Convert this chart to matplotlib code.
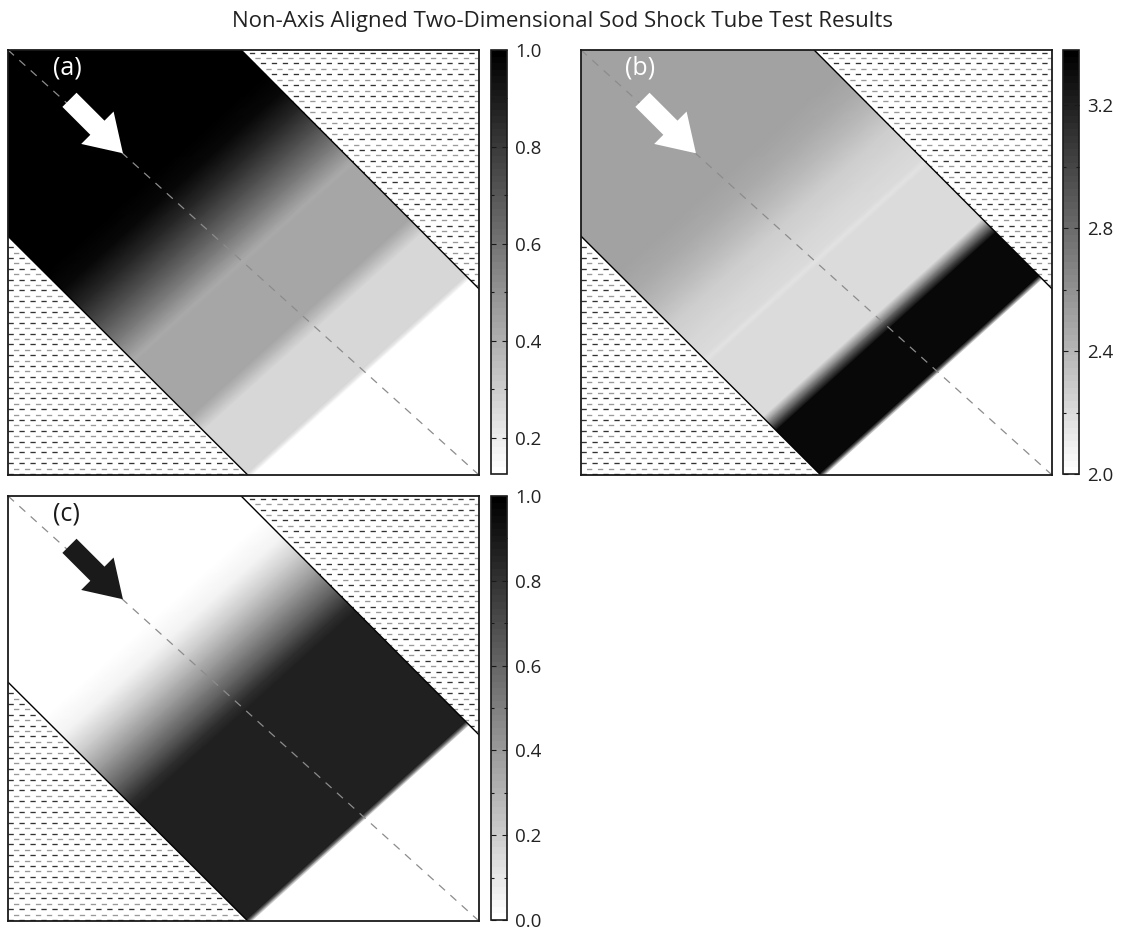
import numpy as np
import matplotlib
matplotlib.use("Agg")
import matplotlib.pyplot as plt
from matplotlib.patches import Polygon
from matplotlib.ticker import FixedLocator, FormatStrFormatter

plt.rcParams['font.family'] = ['Open Sans', 'DejaVu Sans']
plt.rcParams['lines.scale_dashes'] = False

# ---------------- data ----------------
title = "Non-Axis Aligned Two-Dimensional Sod Shock Tube Test Results"
panel_labels = ["(a)", "(b)", "(c)"]

# position along the tube axis (0 = top-left corner, 1 = bottom-right corner)
s_pos = [0.00, 0.30, 0.34, 0.38, 0.42, 0.46, 0.49, 0.497, 0.505, 0.625, 0.655, 0.752, 0.760, 1.00]
density = [1.0, 1.0, 0.97, 0.86, 0.72, 0.57, 0.45, 0.415, 0.43, 0.426, 0.266, 0.266, 0.125, 0.125]
energy = [2.5, 2.5, 2.47, 2.38, 2.28, 2.23, 2.20, 2.17, 2.20, 2.20, 3.32, 3.32, 2.0, 2.0]
velocity = [0.0, 0.0, 0.05, 0.21, 0.42, 0.63, 0.82, 0.84, 0.87, 0.87, 0.87, 0.87, 0.0, 0.0]

color_limits = [(0.125, 1.0), (2.0, 3.38), (0.0, 1.0)]
cbar_major = [[0.2, 0.4, 0.6, 0.8, 1.0],
              [2.0, 2.4, 2.8, 3.2],
              [0.0, 0.2, 0.4, 0.6, 0.8, 1.0]]
cbar_minor = [[0.3, 0.5, 0.7, 0.9],
              [2.2, 2.6, 3.0],
              [0.1, 0.3, 0.5, 0.7, 0.9]]

# tube walls in axes fraction
upper_wall_u = [0.495, 1.0]
upper_wall_v = [1.0, 0.438]
lower_wall_u = [0.0, 0.509]
lower_wall_v = [0.562, 0.0]

arrow_colors = ["white", "white", "#1a1a1a"]
label_colors = ["white", "white", "#1a1a1a"]

# ---------------- layout ----------------
W, H = 1125, 930
fig = plt.figure(figsize=(W / 100, H / 100), dpi=100)


def rect(l, r, t, b):
    return [l / W, 1 - b / H, (r - l) / W, (b - t) / H]


axes_rects = [rect(8, 479, 50, 475), rect(581, 1052, 50, 475), rect(8, 479, 496, 921)]
cbar_rects = [rect(491, 507, 50, 474), rect(1063, 1079, 50, 474), rect(491, 507, 496, 920)]

fields = [density, energy, velocity]
cmap = plt.get_cmap('gray_r', 64)

s_arr = np.array(s_pos)
t_arr = np.array([0.0, 2.0])
S, T = np.meshgrid(s_arr, t_arr)
U = (2 * S - 1 + T) / 2
V = (T - (2 * S - 1)) / 2

for i in range(3):
    ax = fig.add_axes(axes_rects[i])
    ax.set_xlim(0, 1)
    ax.set_ylim(0, 1)
    ax.set_xticks([])
    ax.set_yticks([])
    for sp in ax.spines.values():
        sp.set_linewidth(1.3)
        sp.set_color('#1a1a1a')
        sp.set_zorder(10)

    vals = np.array(fields[i])
    C = np.vstack([vals, vals])
    vmin, vmax = color_limits[i]
    m = ax.pcolormesh(U, V, C, shading='gouraud', cmap=cmap, vmin=vmin, vmax=vmax, zorder=1)

    # hatched wall regions
    polys = [
        [(upper_wall_u[0], upper_wall_v[0]), (1, 1), (upper_wall_u[1], upper_wall_v[1])],
        [(0, 0), (lower_wall_u[0], lower_wall_v[0]), (lower_wall_u[1], lower_wall_v[1])],
    ]
    step = 5.4 / 425
    for pv in polys:
        poly = Polygon(pv, closed=True, facecolor='white', edgecolor='none', zorder=2)
        ax.add_patch(poly)
        ys = np.arange(1 - step / 2, 0, -step)
        for k, y in enumerate(ys):
            dark = (k % 2 == 0)
            ln, = ax.plot([0, 1], [y, y], color='#333333' if dark else '#999999',
                          lw=0.95,
                          linestyle=(0.0 if dark else 3.95, (3.8, 4.1)),
                          dash_capstyle='butt', zorder=3)
            ln.set_clip_path(poly)

    # walls
    ax.plot(upper_wall_u, upper_wall_v, color='black', lw=1.0, zorder=4)
    ax.plot(lower_wall_u, lower_wall_v, color='black', lw=1.0, zorder=4)

    # tube axis
    ax.plot([0, 1], [1, 0], color='#8c8c8c', lw=0.9, linestyle=(0, (5.8, 5.2)), zorder=4)

    # arrow
    ax.annotate('', xy=(0.244, 0.757), xycoords='axes fraction',
                xytext=(-38.5, 38.5), textcoords='offset points',
                arrowprops=dict(arrowstyle='simple,head_length=26,head_width=33,tail_width=14.4',
                                mutation_scale=1, fc=arrow_colors[i], ec='none',
                                shrinkA=0, shrinkB=0),
                zorder=6)
    ax.text(0.125, 0.958, panel_labels[i], transform=ax.transAxes, ha='center', va='center',
            fontsize=18, color=label_colors[i], zorder=7)

    cax = fig.add_axes(cbar_rects[i])
    cb = fig.colorbar(m, cax=cax)
    cb.outline.set_linewidth(1.2)
    cb.outline.set_edgecolor('#1a1a1a')
    cb.set_ticks(cbar_major[i])
    cax.yaxis.set_major_formatter(FormatStrFormatter('%.1f'))
    cax.yaxis.set_minor_locator(FixedLocator(cbar_minor[i]))
    cax.tick_params(which='both', direction='in', left=True, right=True, colors='#1a1a1a',
                    labelsize=13.5, labelcolor='#222222', width=0.8)
    cax.tick_params(which='major', length=3.5, pad=6)
    cax.tick_params(which='minor', length=2.5)

fig.text(0.5, 1 - 22 / H, title, ha='center', va='center', fontsize=16, color='#222222')

fig.savefig('out.png', dpi=100)
